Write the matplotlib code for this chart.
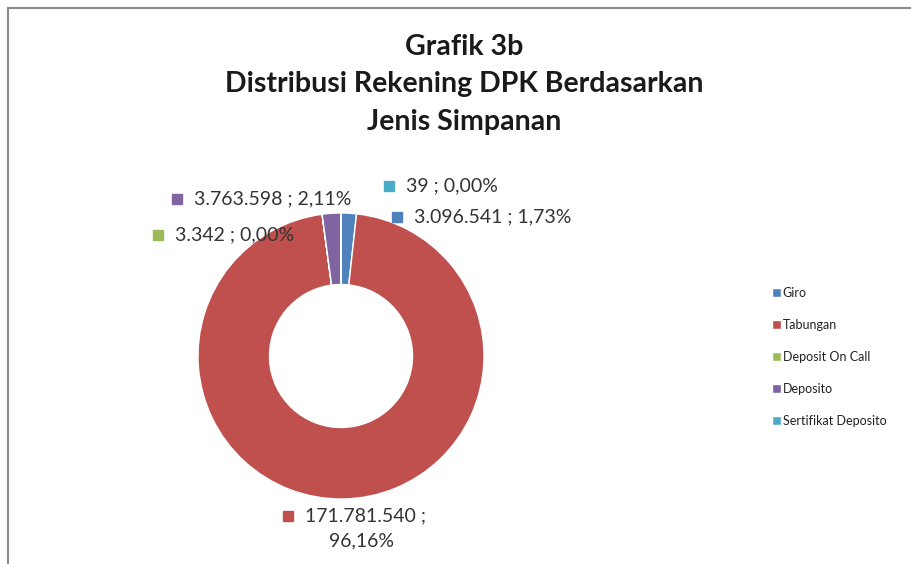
import matplotlib.pyplot as plt
from matplotlib.patches import Rectangle
from matplotlib.lines import Line2D

# data
categories = ['Giro', 'Tabungan', 'Deposit On Call', 'Deposito', 'Sertifikat Deposito']
values = [3096541, 171781540, 3342, 3763598, 39]
label_texts = ['3.096.541 ; 1,73%', '171.781.540 ;\n96,16%', '3.342 ; 0,00%',
               '3.763.598 ; 2,11%', '39 ; 0,00%']
colors = ['#4F81BD', '#C0504D', '#9BBB59', '#8064A2', '#4BACC6']

W, H = 912, 564
plt.rcParams['font.family'] = ['Lato', 'DejaVu Sans']
fig = plt.figure(figsize=(W / 100, H / 100), dpi=100)


def fx(px):
    return px / W


def fy(py):
    return 1 - py / H


# chart border (left and top visible)
fig.add_artist(Line2D([fx(8), fx(8)], [fy(8), 0], color='#8a8a8a', lw=1.5))
fig.add_artist(Line2D([fx(8), 1], [fy(8), fy(8)], color='#8a8a8a', lw=1.5))

ax = fig.add_axes([fx(198), fy(356 + 143), fx(286), 286 / H])
wedges, _ = ax.pie(values, colors=colors, startangle=90, counterclock=False,
                   radius=1, wedgeprops=dict(width=0.5, edgecolor='white', linewidth=1))
ax.set_xlim(-1, 1)
ax.set_ylim(-1, 1)
ax.set_aspect('equal')
ax.axis('off')

for text, y in [('Grafik 3b', 47), ('Distribusi Rekening DPK Berdasarkan', 84),
                ('Jenis Simpanan', 122)]:
    fig.text(fx(464), fy(y), text, ha='center', va='center',
             fontsize=20.5, fontweight='bold', color='#1a1a1a')

# data labels: (marker x, y) in pixels
label_pos = [(397, 217), (288, 516), (158, 235), (177, 199), (389, 186)]
for i, (mx, my) in enumerate(label_pos):
    fig.add_artist(Rectangle((fx(mx - 5), fy(my + 5)), fx(10), 10 / H,
                             color=colors[i], transform=fig.transFigure))
    if i == 1:
        fig.text(fx(mx + 17), fy(my), '171.781.540 ;', ha='left', va='center',
                 fontsize=14, color='#333333')
        fig.text(fx(362), fy(my + 25), '96,16%', ha='center', va='center',
                 fontsize=14, color='#333333')
    else:
        fig.text(fx(mx + 17), fy(my), label_texts[i], ha='left', va='center',
                 fontsize=14, color='#333333')

leg = fig.legend(wedges, categories, loc='upper left',
                 bbox_to_anchor=(fx(767), fy(282)), frameon=False,
                 fontsize=9, handlelength=0.7, handleheight=0.7,
                 handletextpad=0.15, labelspacing=1.6, borderaxespad=0)
for t in leg.get_texts():
    t.set_color('#222222')

fig.savefig('out.png', dpi=100)
